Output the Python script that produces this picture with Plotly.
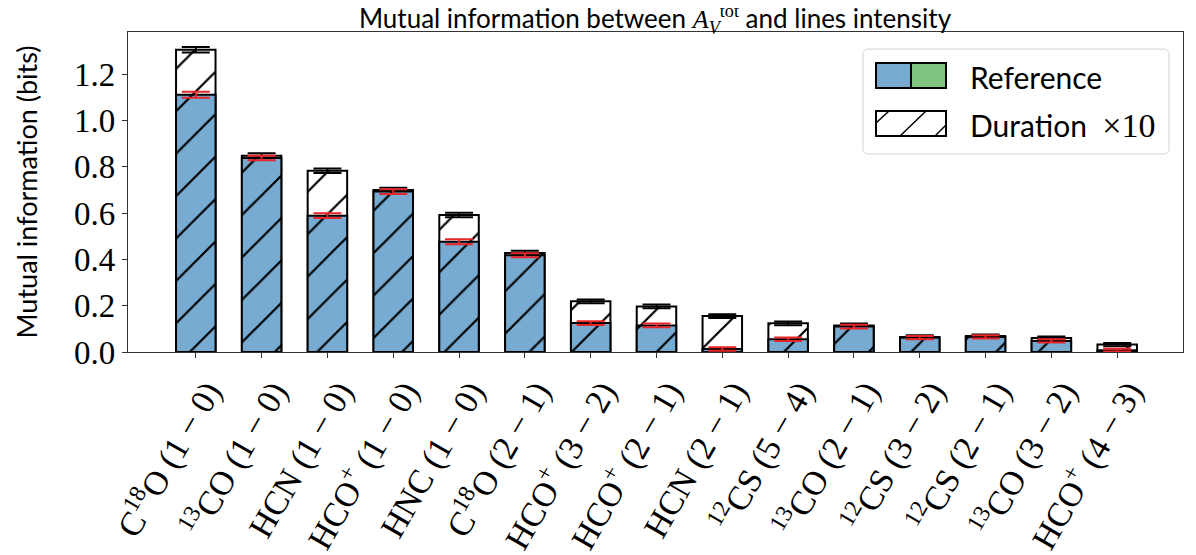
import plotly.graph_objects as go

labels = ["C<sup>18</sup>O (1 − 0)", "<sup>13</sup>CO (1 − 0)", "HCN (1 − 0)", "HCO<sup>+</sup> (1 − 0)",
          "HNC (1 − 0)", "C<sup>18</sup>O (2 − 1)", "HCO<sup>+</sup> (3 − 2)", "HCO<sup>+</sup> (2 − 1)",
          "HCN (2 − 1)", "<sup>12</sup>CS (5 − 4)", "<sup>13</sup>CO (2 − 1)", "<sup>12</sup>CS (3 − 2)",
          "<sup>12</sup>CS (2 − 1)", "<sup>13</sup>CO (3 − 2)", "HCO<sup>+</sup> (4 − 3)"]
duration = [1.306, 0.848, 0.783, 0.700, 0.592, 0.428, 0.219, 0.197, 0.155, 0.124, 0.115, 0.065, 0.069, 0.060, 0.032]
duration_err = [0.012, 0.010, 0.010, 0.010, 0.010, 0.009, 0.008, 0.008, 0.008, 0.008, 0.008, 0.007, 0.007, 0.007, 0.007]
reference = [1.111, 0.838, 0.589, 0.693, 0.476, 0.418, 0.125, 0.115, 0.013, 0.055, 0.110, 0.062, 0.065, 0.048, 0.008]
reference_err = [0.013, 0.010, 0.010, 0.010, 0.011, 0.009, 0.008, 0.008, 0.008, 0.008, 0.008, 0.007, 0.007, 0.007, 0.006]
yticks = [0.0, 0.2, 0.4, 0.6, 0.8, 1.0, 1.2]

BLUE = "#77abd2"
GREEN = "#80c680"
OFF = 8                      # default page margin of the html body
W, H = 1196 - OFF, 555 - OFF
L, R, T, B = 128, 1183, 32, 352   # plot area in window pixels
SANS = "Lato"
SERIF = "Liberation Serif"

xs = list(range(len(labels)))
pattern = dict(shape="/", fgcolor="black", fgopacity=1, size=30, solidity=0.075)

fig = go.Figure()
fig.add_trace(go.Bar(x=xs, y=duration, width=0.6, name="Duration ×10",
                     marker=dict(color="white", line=dict(color="black", width=2),
                                 pattern=dict(**pattern, bgcolor="white")),
                     error_y=dict(type="data", array=duration_err, color="black", thickness=2, width=14),
                     showlegend=False))
fig.add_trace(go.Bar(x=xs, y=reference, width=0.6, name="Reference",
                     marker=dict(color=BLUE, line=dict(color="black", width=2),
                                 pattern=dict(**pattern, bgcolor=BLUE)),
                     error_y=dict(type="data", array=reference_err, color="#e8262a", thickness=2, width=14),
                     showlegend=False))

def px(x):
    return (x - L) / (R - L)

def py(y):
    return (B - y) / (B - T)

shapes = []
x0, x1, y0, y1, r = 863, 1169, 49, 154, 6
path = (f"M {px(x0+r)},{py(y0)} L {px(x1-r)},{py(y0)} Q {px(x1)},{py(y0)} {px(x1)},{py(y0+r)} "
        f"L {px(x1)},{py(y1-r)} Q {px(x1)},{py(y1)} {px(x1-r)},{py(y1)} L {px(x0+r)},{py(y1)} "
        f"Q {px(x0)},{py(y1)} {px(x0)},{py(y1-r)} L {px(x0)},{py(y0+r)} Q {px(x0)},{py(y0)} {px(x0+r)},{py(y0)} Z")
shapes.append(dict(type="path", xref="paper", yref="paper", path=path,
                   line=dict(color="#d4d4d4", width=1), fillcolor="rgba(255,255,255,0.85)"))
shapes.append(dict(type="rect", xref="paper", yref="paper", x0=px(876), x1=px(911), y0=py(88), y1=py(63),
                   fillcolor=BLUE, line=dict(color="black", width=2)))
shapes.append(dict(type="rect", xref="paper", yref="paper", x0=px(911), x1=px(946), y0=py(88), y1=py(63),
                   fillcolor=GREEN, line=dict(color="black", width=2)))
shapes.append(dict(type="rect", xref="paper", yref="paper", x0=px(876), x1=px(946), y0=py(136), y1=py(111),
                   fillcolor="white", line=dict(color="black", width=2)))
for (ax, ay, bx, by) in [(876, 123, 889, 111), (900, 136, 926, 111), (935, 136, 946, 125)]:
    shapes.append(dict(type="line", xref="paper", yref="paper", x0=px(ax), y0=py(ay), x1=px(bx), y1=py(by),
                       line=dict(color="black", width=1.5)))

annotations = [
    dict(xref="paper", yref="paper", x=px(968), y=py(77), text="Reference", showarrow=False,
         xanchor="left", yanchor="middle", font=dict(family=SANS, size=30, color="black")),
    dict(xref="paper", yref="paper", x=px(968), y=py(125),
         text=f"Duration  <span style='font-family:{SERIF};font-size:34px'>×10</span>", showarrow=False,
         xanchor="left", yanchor="middle", font=dict(family=SANS, size=30, color="black")),
]

fig.update_layout(
    width=W, height=H, barmode="overlay",
    paper_bgcolor="white", plot_bgcolor="white",
    margin=dict(l=L - OFF, r=W - (R - OFF), t=T - OFF, b=H - (B - OFF), autoexpand=False),
    title=dict(text=f"Mutual information between <span style='font-family:{SERIF}'><i>A</i><sub><i>V</i></sub><sup>tot</sup></span> and lines intensity",
               x=(655 - OFF) / W, xanchor="center", y=1 - (19 - OFF) / H, yanchor="middle",
               font=dict(family=SANS, size=26, color="black"), automargin=False),
    shapes=shapes, annotations=annotations, showlegend=False,
)
fig.update_xaxes(range=[-1.03, 15.0], tickvals=xs, ticktext=labels, tickangle=-60, automargin=False,
                 tickfont=dict(family=SERIF, size=34, color="black"), ticklabelshift=12,
                 showline=True, linecolor="#333", linewidth=1.3, mirror=True,
                 ticks="outside", ticklen=5, tickcolor="#333", showgrid=False, zeroline=False)
fig.update_yaxes(range=[0, (B - T) / 231.5], tickvals=yticks, ticktext=[f"{v:.1f}" for v in yticks],
                 automargin=False,
                 tickfont=dict(family=SERIF, size=33, color="black"),
                 title=dict(text="Mutual information (bits)", font=dict(family=SANS, size=27, color="black"),
                            standoff=28),
                 showline=True, linecolor="#333", linewidth=1.3, mirror=True,
                 ticks="outside", ticklen=5, tickcolor="#333", showgrid=False, zeroline=False)

fig.write_html("out.html")
